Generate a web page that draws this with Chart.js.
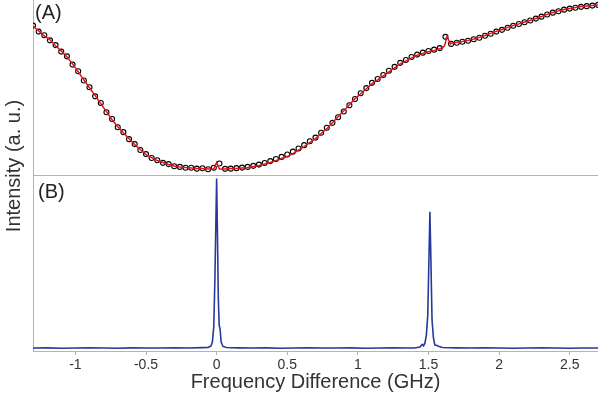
<!DOCTYPE html>
<html>
<head>
<meta charset="utf-8">
<script src="https://cdn.jsdelivr.net/npm/chart.js@4.4.1/dist/chart.umd.min.js"></script>
<style>
  html, body { margin: 0; padding: 0; background: #fff; }
  #wrap { width: 598px; height: 394px; position: relative; }
</style>
</head>
<body>
<div id="wrap"><canvas id="chart" width="598" height="394"></canvas></div>
<script>
// Panel (A): measured points and fitted curve
const freqA = [
  -1.30, -1.26, -1.22, -1.18, -1.14, -1.10, -1.06, -1.02, -0.98, -0.94,
  -0.90, -0.86, -0.82, -0.78, -0.74, -0.70, -0.66, -0.62, -0.58, -0.54,
  -0.50, -0.46, -0.42, -0.38, -0.34, -0.30, -0.26, -0.22, -0.18, -0.14,
  -0.10, -0.06, -0.02, 0.02, 0.06, 0.10, 0.14, 0.18, 0.22, 0.26,
  0.30, 0.34, 0.38, 0.42, 0.46, 0.50, 0.54, 0.58, 0.62, 0.66,
  0.70, 0.74, 0.78, 0.82, 0.86, 0.90, 0.94, 0.98, 1.02, 1.06,
  1.10, 1.14, 1.18, 1.22, 1.26, 1.30, 1.34, 1.38, 1.42, 1.46,
  1.50, 1.54, 1.58, 1.62, 1.66, 1.70, 1.74, 1.78, 1.82, 1.86,
  1.90, 1.94, 1.98, 2.02, 2.06, 2.10, 2.14, 2.18, 2.22, 2.26,
  2.30, 2.34, 2.38, 2.42, 2.46, 2.50, 2.54, 2.58, 2.62, 2.66, 2.70
];
const measuredA = [
  85.4, 82.0, 79.9, 77.0, 74.3, 70.6, 67.9, 63.2, 59.4, 54.1,
  50.3, 45.1, 41.3, 36.0, 32.2, 27.5, 24.7, 20.7, 17.9, 14.5,
  12.2, 10.0, 8.7, 7.2, 6.5, 5.3, 4.9, 4.4, 4.4, 3.9,
  4.1, 3.6, 4.4, 6.8, 3.8, 3.9, 4.2, 4.5, 4.9, 5.5,
  6.2, 7.1, 8.2, 9.4, 10.6, 12.0, 13.6, 15.4, 17.3, 19.5,
  21.6, 24.4, 27.2, 30.0, 33.2, 36.5, 40.0, 43.6, 46.9, 49.8,
  52.8, 55.0, 57.3, 59.7, 61.9, 64.2, 65.8, 67.5, 68.9, 70.0,
  70.9, 71.7, 72.6, 79.0, 75.0, 75.6, 76.2, 76.8, 77.6, 78.5,
  79.6, 80.8, 82.0, 83.0, 84.2, 85.3, 86.3, 87.3, 88.3, 89.4,
  90.5, 91.7, 92.8, 93.6, 94.5, 95.1, 95.6, 96.1, 96.5, 96.8, 97.2
];
const fitA = [
  85.2, 82.4, 79.5, 77.3, 73.9, 71.0, 67.6, 63.6, 59.1, 54.5,
  50.0, 45.5, 40.9, 36.4, 31.8, 27.8, 24.4, 21.0, 17.6, 14.8,
  11.9, 10.2, 8.5, 7.4, 6.3, 5.4, 4.8, 4.5, 4.3, 4.0,
  4.0, 3.7, 3.7, 3.7, 3.7, 4.0, 4.0, 4.3, 4.5, 5.1,
  5.7, 6.5, 7.4, 8.5, 9.7, 10.8, 12.5, 14.5, 16.5, 18.8,
  21.0, 23.9, 26.7, 30.1, 33.5, 36.9, 40.3, 43.8, 46.6, 49.4,
  52.3, 54.5, 56.8, 59.1, 61.4, 63.6, 65.3, 67.0, 68.5, 69.6,
  70.5, 71.3, 72.2, 75.6, 75.3, 75.9, 76.4, 77.0, 77.8, 78.7,
  79.8, 81.0, 82.1, 83.2, 84.4, 85.5, 86.4, 87.5, 88.4, 89.5,
  90.6, 91.8, 92.9, 93.8, 94.6, 95.2, 95.7, 96.3, 96.6, 96.9, 97.2
];
// extra fit samples across the two narrow resonances
const fitResX = [-0.01, 0.0, 0.01, 1.60, 1.612, 1.625, 1.632, 1.642, 1.655];
const fitResY = [5.7, 7.4, 5.1, 72.9, 73.8, 78.4, 79.3, 77.3, 75.0];

// Panel (B): transmission spectrum
const freqB = [
  -1.30, -1.20, -1.10, -1.00, -0.90, -0.80, -0.70, -0.60, -0.50, -0.40,
  -0.30, -0.20, -0.10, -0.06, -0.04, -0.03, -0.02, -0.012, -0.006, 0.0,
  0.006, 0.012, 0.018, 0.025, 0.032, 0.045, 0.07, 0.15, 0.25, 0.35,
  0.45, 0.55, 0.65, 0.75, 0.85, 0.95, 1.05, 1.15, 1.25, 1.35,
  1.40, 1.44, 1.455, 1.465, 1.475, 1.485, 1.495, 1.503, 1.51, 1.517,
  1.525, 1.535, 1.545, 1.56, 1.575, 1.60, 1.70, 1.80, 1.90, 2.00,
  2.10, 2.20, 2.30, 2.40, 2.50, 2.60, 2.70
];
const signalB = [
  1.7, 1.8, 1.6, 1.7, 1.8, 1.7, 1.6, 1.8, 1.7, 1.7,
  1.8, 1.7, 1.9, 2.0, 2.9, 5.1, 14.0, 42.0, 70.0, 98.3,
  66.0, 30.0, 14.9, 12.0, 5.1, 2.6, 2.0, 1.8, 1.7, 1.8,
  1.6, 1.7, 1.8, 1.7, 1.7, 1.8, 1.6, 1.7, 1.8, 1.7,
  1.7, 2.3, 3.7, 2.9, 4.6, 9.1, 20.6, 52.0, 79.4, 52.0,
  17.7, 7.4, 3.4, 3.1, 2.6, 2.0, 1.8, 1.7, 1.8, 1.7,
  1.6, 1.7, 1.8, 1.7, 1.6, 1.7, 1.7
];

const xTicks = [-1, -0.5, 0, 0.5, 1, 1.5, 2, 2.5];

// build point lists
const pts = (xs, ys) => xs.map((x, i) => ({ x: x, y: ys[i] }));
const fitPoints = pts(freqA, fitA).concat(pts(fitResX, fitResY)).sort((a, b) => a.x - b.x);

const FONT = '"Liberation Sans", Arial, sans-serif';

// no extra padding around the plot box
function noPadding(s) {
  s.paddingLeft = 0;
  s.paddingRight = 0;
  s.paddingTop = 0;
  s.paddingBottom = 0;
}

const labelsPlugin = {
  id: 'labels',
  afterDraw(chart) {
    const ctx = chart.ctx;
    const area = chart.chartArea;
    ctx.save();
    ctx.fillStyle = '#222';
    ctx.font = '20px ' + FONT;
    ctx.textBaseline = 'middle';
    ctx.textAlign = 'left';
    ctx.fillText('(A)', area.left + 2, 13);
    ctx.fillText('(B)', area.left + 5, 192);
    ctx.translate(14, 166);
    ctx.rotate(-Math.PI / 2);
    ctx.textAlign = 'center';
    ctx.fillStyle = '#333';
    ctx.fillText('Intensity (a. u.)', 0, 0);
    ctx.restore();
  }
};

new Chart(document.getElementById('chart'), {
  type: 'scatter',
  data: {
    datasets: [
      {
        label: 'Fit',
        data: fitPoints,
        yAxisID: 'yA',
        showLine: true,
        borderColor: '#e3131b',
        borderWidth: 1.5,
        pointRadius: 0,
        tension: 0
      },
      {
        label: 'Measured',
        data: pts(freqA, measuredA),
        yAxisID: 'yA',
        showLine: false,
        pointRadius: 2.5,
        pointBorderWidth: 1.1,
        pointBorderColor: '#000',
        pointBackgroundColor: 'rgba(255,255,255,0)'
      },
      {
        label: 'Spectrum',
        data: pts(freqB, signalB),
        yAxisID: 'yB',
        showLine: true,
        borderColor: '#26399c',
        borderWidth: 1.6,
        pointRadius: 0,
        tension: 0
      }
    ]
  },
  options: {
    responsive: false,
    animation: false,
    devicePixelRatio: 1,
    layout: { padding: 0, autoPadding: false },
    plugins: {
      legend: { display: false },
      tooltip: { enabled: false }
    },
    scales: {
      x: {
        type: 'linear',
        min: -1.3,
        max: 2.7,
        afterBuildTicks: s => { s.ticks = xTicks.map(v => ({ value: v })); },
        afterFit: s => { s.height = 43; noPadding(s); },
        border: { color: '#b4b4b4', width: 1 },
        grid: { drawOnChartArea: false, drawTicks: true, tickLength: 4, color: '#b4b4b4' },
        ticks: {
          color: '#333',
          font: { family: FONT, size: 14 },
          padding: 2,
          maxRotation: 0,
          callback: v => String(v)
        },
        title: {
          display: true,
          text: 'Frequency Difference (GHz)',
          color: '#333',
          font: { family: FONT, size: 20 },
          padding: { top: 0, bottom: 0 }
        }
      },
      yB: {
        type: 'linear',
        position: 'left',
        stack: 'panels',
        stackWeight: 1,
        min: 0,
        max: 100,
        afterBuildTicks: s => { s.ticks = []; },
        afterFit: s => { s.width = 33; noPadding(s); },
        border: { color: '#b4b4b4', width: 1 },
        grid: { display: false },
        ticks: { display: false }
      },
      yA: {
        type: 'linear',
        position: 'left',
        stack: 'panels',
        stackWeight: 1,
        min: 0,
        max: 100,
        afterBuildTicks: s => { s.ticks = [{ value: 0 }]; },
        afterFit: s => { s.width = 33; noPadding(s); },
        border: { color: '#b4b4b4', width: 1 },
        grid: { display: true, drawTicks: false, color: '#b4b4b4', lineWidth: 1 },
        ticks: { display: false }
      }
    }
  },
  plugins: [labelsPlugin]
});
</script>
</body>
</html>
